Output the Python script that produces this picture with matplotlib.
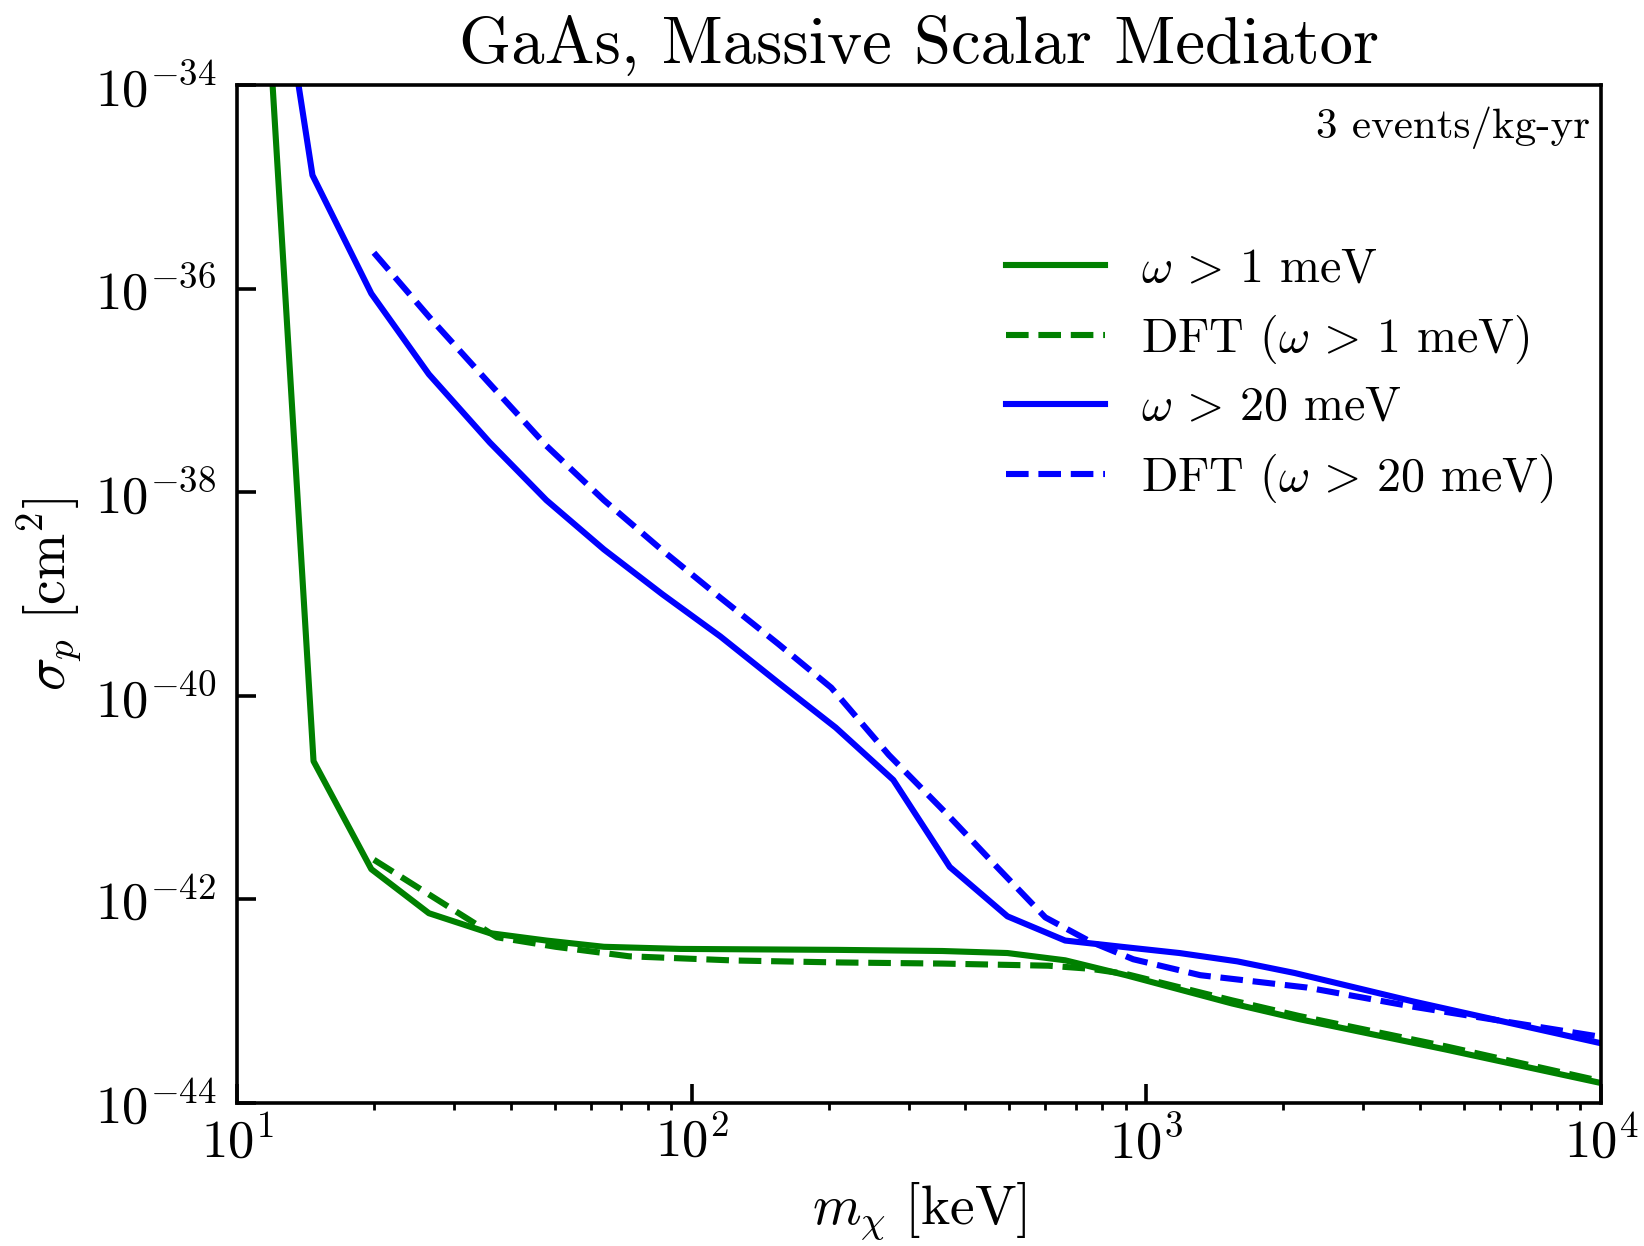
import matplotlib
matplotlib.use("Agg")
import matplotlib.pyplot as plt
from matplotlib.ticker import LogLocator, NullLocator, NullFormatter

plt.rcParams["font.family"] = "serif"
plt.rcParams["font.serif"] = ["cmr10"]
plt.rcParams["mathtext.fontset"] = "cm"
plt.rcParams["axes.formatter.use_mathtext"] = True

# omega > 1 meV
m_1 = [11.0, 14.73, 19.74, 26.42, 35.96, 47.9, 64.1, 94.5, 209.5, 356, 495, 663, 902, 1542, 2166, 4557, 10000]
sig_1 = [5.1e-32, 2.28e-41, 1.98e-42, 7.31e-43, 4.66e-43, 3.94e-43, 3.42e-43, 3.26e-43, 3.19e-43,
         3.11e-43, 2.97e-43, 2.52e-43, 1.80e-43, 9.5e-44, 6.67e-44, 3.35e-44, 1.57e-44]

# DFT, omega > 1 meV
m_1_dft = [20.0, 37.3, 50.2, 72.8, 123.8, 210.5, 356, 609, 753, 902, 1542, 2166, 4557, 10000]
sig_1_dft = [2.45e-42, 4.24e-43, 3.42e-43, 2.76e-43, 2.51e-43, 2.40e-43, 2.34e-43, 2.23e-43,
             2.08e-43, 1.85e-43, 1.02e-43, 7.16e-44, 3.60e-44, 1.64e-44]

# omega > 20 meV
m_20 = [11.0, 14.65, 19.74, 26.42, 35.96, 47.9, 64.1, 86.3, 115.6, 154.9, 207.4, 277.6, 369.6,
        495, 663, 883, 1183, 1585, 2121, 3846, 10000]
sig_20 = [5.1e-32, 1.30e-35, 8.93e-37, 1.44e-37, 3.08e-38, 8.35e-39, 2.74e-39, 9.9e-40, 3.83e-40,
          1.35e-40, 4.87e-41, 1.49e-41, 2.08e-42, 6.81e-43, 3.94e-43, 3.42e-43, 2.97e-43,
          2.46e-43, 1.89e-43, 9.98e-44, 3.86e-44]

# DFT, omega > 20 meV
m_20_dft = [20.0, 26.42, 35.96, 47.9, 64.1, 86.3, 115.6, 154.9, 202.8, 271.5, 363.6, 471.8,
            599.6, 753, 936, 1314, 2259, 3846, 10000]
sig_20_dft = [2.25e-36, 5.30e-37, 1.16e-37, 2.86e-38, 8.35e-39, 2.67e-39, 9.2e-40, 3.24e-40,
              1.20e-40, 2.62e-41, 6.95e-42, 2.03e-42, 6.65e-43, 3.85e-43, 2.58e-43, 1.80e-43,
              1.36e-43, 8.85e-44, 4.46e-44]

x_ticks = [1e1, 1e2, 1e3, 1e4]
x_tick_labels = [r"$10^{1}$", r"$10^{2}$", r"$10^{3}$", r"$10^{4}$"]
y_ticks = [1e-44, 1e-42, 1e-40, 1e-38, 1e-36, 1e-34]
y_tick_labels = [r"$10^{-44}$", r"$10^{-42}$", r"$10^{-40}$", r"$10^{-38}$", r"$10^{-36}$", r"$10^{-34}$"]

fig = plt.figure(figsize=(8.22, 6.23), dpi=200)
ax = fig.add_axes([0.1442, 0.1148, 0.8296, 0.8170])

lw = 2.2
ax.plot(m_1, sig_1, color="green", lw=lw, label=r"$\omega\,>\,1$ meV")
ax.plot(m_1_dft, sig_1_dft, color="green", lw=lw, ls="--", label=r"DFT ($\omega\,>\,1$ meV)")
ax.plot(m_20, sig_20, color="blue", lw=lw, label=r"$\omega\,>\,20$ meV")
ax.plot(m_20_dft, sig_20_dft, color="blue", lw=lw, ls="--", label=r"DFT ($\omega\,>\,20$ meV)")

ax.set_xscale("log")
ax.set_yscale("log")
ax.set_xlim(10, 1e4)
ax.set_ylim(1e-44, 1e-34)

ax.set_xticks(x_ticks)
ax.set_xticklabels(x_tick_labels)
ax.set_yticks(y_ticks)
ax.set_yticklabels(y_tick_labels)
ax.xaxis.set_minor_locator(LogLocator(base=10, subs=range(2, 10)))
ax.xaxis.set_minor_formatter(NullFormatter())
ax.yaxis.set_minor_locator(NullLocator())

ax.tick_params(which="major", direction="in", length=7, width=1.3, labelsize=19)
ax.tick_params(axis="x", which="major", pad=5)
ax.tick_params(axis="y", which="major", pad=7.5)
ax.tick_params(which="minor", direction="out", length=2.5, width=1.0)
for s in ax.spines.values():
    s.set_linewidth(1.3)

ax.set_title("GaAs, Massive Scalar Mediator", fontsize=24, pad=8)
ax.set_xlabel(r"$m_\chi\ [\mathrm{keV}]$", fontsize=20, labelpad=4.5)
ax.set_ylabel(r"$\sigma_p\ [\mathrm{cm}^2]$", fontsize=20, labelpad=3.5)

ax.text(0.992, 0.958, "3 events/kg-yr", transform=ax.transAxes, ha="right", va="center", fontsize=15.5)

ax.legend(loc="upper left", bbox_to_anchor=(0.564, 0.840), frameon=False, fontsize=17.3,
          handlelength=2.05, handletextpad=0.76, labelspacing=0.43, borderpad=0, borderaxespad=0)

fig.savefig("out.png", dpi=200)
